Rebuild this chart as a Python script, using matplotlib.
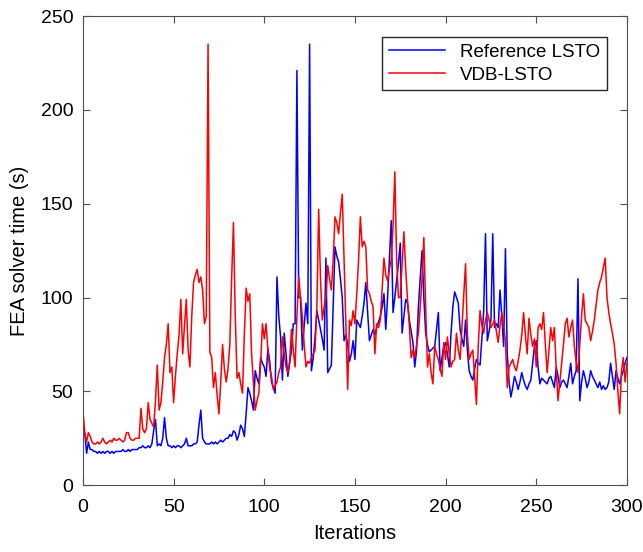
import numpy as np
import matplotlib.pyplot as plt

plt.rcParams['font.family'] = ['Liberation Sans', 'DejaVu Sans']

# FEA solver time per iteration (s)
vdb_lsto = [
    40, 28, 23, 28, 26, 23, 22, 22, 23, 22,
    23, 25, 23, 22, 23, 24, 23, 25, 24, 24,
    25, 24, 23, 24, 28, 28, 25, 24, 24, 25,
    25, 25, 41, 30, 28, 30, 44, 35, 33, 31,
    45, 64, 40, 44, 55, 68, 75, 86, 60, 63,
    44, 58, 70, 80, 99, 70, 85, 99, 72, 63,
    90, 108, 112, 115, 108, 111, 104, 86, 90, 235,
    71, 68, 52, 60, 48, 38, 55, 75, 62, 55,
    62, 75, 110, 140, 90, 57, 60, 54, 49, 80,
    105, 98, 102, 70, 55, 40, 45, 49, 65, 86,
    78, 86, 72, 62, 58, 51, 53, 55, 60, 63,
    79, 70, 63, 60, 66, 83, 72, 63, 90, 111,
    100, 90, 75, 63, 66, 65, 68, 70, 72, 95,
    147, 110, 88, 95, 100, 117, 110, 104, 120, 143,
    140, 134, 145, 155, 120, 83, 51, 88, 85, 93,
    86, 102, 120, 143, 127, 130, 127, 104, 102, 98,
    95, 70, 86, 84, 88, 105, 121, 112, 109, 115,
    120, 138, 167, 120, 100, 100, 118, 135, 115, 99,
    85, 68, 72, 68, 75, 81, 95, 110, 132, 95,
    63, 70, 60, 54, 74, 70, 67, 62, 58, 76,
    67, 79, 70, 63, 66, 67, 81, 72, 67, 84,
    100, 118, 81, 67, 70, 72, 58, 43, 74, 93,
    85, 81, 88, 92, 88, 84, 86, 88, 82, 76,
    85, 92, 85, 77, 52, 63, 65, 67, 63, 61,
    66, 72, 80, 92, 80, 70, 89, 80, 74, 78,
    63, 84, 86, 83, 92, 75, 60, 72, 84, 77,
    84, 62, 45, 55, 65, 75, 86, 89, 79, 84,
    88, 74, 66, 60, 75, 90, 102, 88, 86, 84,
    77, 82, 88, 96, 104, 108, 111, 116, 121, 100,
    92, 86, 81, 75, 65, 50, 38, 61, 68, 55,
    65,
]

reference_lsto = [
    28, 28, 17, 23, 19, 19, 18, 18, 17, 18,
    17, 18, 17, 18, 18, 17, 18, 17, 18, 18,
    18, 18, 19, 18, 18, 19, 18, 19, 19, 19,
    19, 20, 20, 21, 20, 20, 21, 20, 22, 29,
    35, 21, 22, 21, 25, 36, 25, 21, 21, 20,
    21, 20, 21, 21, 20, 21, 22, 25, 21, 21,
    21, 22, 22, 23, 32, 40, 25, 23, 22, 22,
    22, 23, 22, 23, 22, 23, 24, 23, 24, 25,
    25, 27, 26, 29, 28, 24, 27, 32, 30, 26,
    38, 52, 49, 45, 40, 61, 57, 54, 68, 65,
    63, 58, 73, 66, 55, 52, 49, 111, 90, 79,
    56, 81, 70, 58, 65, 72, 86, 86, 221, 100,
    100, 72, 85, 97, 86, 235, 61, 68, 79, 93,
    88, 83, 78, 72, 121, 60, 62, 64, 95, 127,
    122, 119, 110, 100, 77, 80, 75, 66, 70, 77,
    67, 88, 86, 84, 90, 97, 108, 92, 77, 80,
    83, 80, 84, 87, 90, 95, 102, 83, 100, 120,
    141, 92, 100, 109, 118, 129, 81, 90, 99, 97,
    88, 82, 76, 63, 72, 95, 110, 125, 100, 81,
    75, 71, 72, 73, 74, 83, 92, 61, 68, 74,
    76, 70, 63, 81, 95, 103, 100, 97, 83, 78,
    74, 88, 72, 61, 58, 56, 62, 67, 65, 64,
    78, 93, 134, 77, 82, 88, 134, 84, 86, 84,
    104, 90, 74, 126, 70, 55, 47, 52, 58, 55,
    51, 55, 60, 56, 53, 51, 54, 56, 65, 74,
    77, 63, 54, 57, 56, 55, 54, 57, 58, 55,
    52, 63, 58, 52, 55, 56, 54, 52, 58, 65,
    54, 58, 61, 110, 45, 55, 61, 57, 52, 55,
    61, 58, 56, 54, 52, 55, 51, 53, 51, 52,
    55, 65, 58, 51, 61, 57, 54, 58, 61, 65,
    68,
]

iterations = np.arange(len(vdb_lsto))

fig = plt.figure(figsize=(6.43, 5.52), dpi=100)
ax = fig.add_axes([0.129, 0.121, 0.846, 0.850])

ax.plot(iterations, reference_lsto, color='#0000ff', lw=1.1, label='Reference LSTO')
ax.plot(iterations, vdb_lsto, color='#ff0000', lw=1.1, label='VDB-LSTO')

ax.set_xlim(0, 300)
ax.set_ylim(0, 250)
ax.set_xticks(np.arange(0, 301, 50))
ax.set_yticks(np.arange(0, 251, 50))
ax.tick_params(direction='in', top=True, right=True, labelsize=14,
               length=5, color='#505050')
ax.tick_params(axis='x', pad=10)
ax.tick_params(axis='y', pad=7)
for s in ax.spines.values():
    s.set_color('#505050')

ax.set_xlabel('Iterations', fontsize=14.5, labelpad=6)
ax.set_ylabel('FEA solver time (s)', fontsize=14.5, labelpad=8)

leg = ax.legend(loc='upper right', bbox_to_anchor=(0.963, 0.955),
                borderaxespad=0, fontsize=13.5, fancybox=False,
                handlelength=3.0, framealpha=1, borderpad=0.35,
                labelspacing=0.3)
leg.get_frame().set_edgecolor('#262626')

fig.savefig('out.png', dpi=100)
